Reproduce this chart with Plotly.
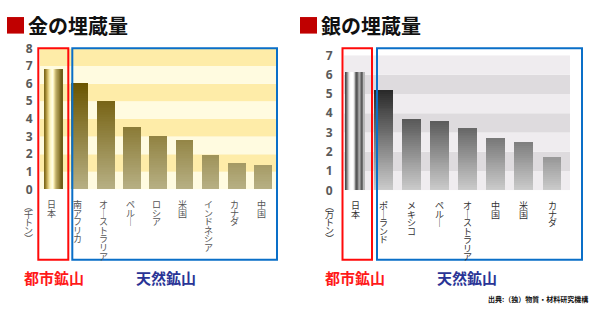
import numpy as np
import plotly.graph_objects as go

# ---------------- data ----------------
gold_categories = ["日本", "南アフリカ", "オーストラリア", "ペルー", "ロシア", "米国", "インドネシア", "カナダ", "中国"]
gold_values = [6.8, 6.0, 5.0, 3.5, 3.0, 2.8, 1.9, 1.5, 1.35]   # 千トン
gold_ticks = [0, 1, 2, 3, 4, 5, 6, 7, 8]

silver_categories = ["日本", "ポーランド", "メキシコ", "ペルー", "オーストラリア", "中国", "米国", "カナダ"]
silver_values = [6.1, 5.2, 3.7, 3.6, 3.2, 2.7, 2.5, 1.7]       # 万トン
silver_ticks = [0, 1, 2, 3, 4, 5, 6, 7]

gold_title = "金の埋蔵量"
silver_title = "銀の埋蔵量"
gold_unit = "︵千トン︶"
silver_unit = "︵万トン︶"
urban_label = "都市鉱山"
natural_label = "天然鉱山"
source_text = "出典:（独）物質・材料研究機構"

# ---------------- styling helpers ----------------
W, H = 595, 314
CJK = "Noto Sans CJK JP"


def fx(px):
    return px / W


def fy(py):
    return 1 - py / H


def gold_grad(h):
    return "rgb(%d,%d,%d)" % (184 - 12.8 * h, 177 - 15.3 * h, max(0, 133 - 22.2 * h))


def silver_grad(h):
    c = int(max(30, 205 - 31.5 * h))
    return "rgb(%d,%d,%d)" % (c, c, c)


gold_metal = ["#7e6a1c", "#957f2c", "#b39a45", "#cdb662", "#e2d084", "#f3e8a8", "#fcf6c6",
              "#fffbd8", "#fffde4", "#fbf3c0", "#e6d896", "#ccbb76", "#b6a660", "#a8974f",
              "#9c8b42", "#8c7a32", "#7b6a22", "#6f5f1a"]
silver_metal = ["#4a4a4a", "#6e6e6e", "#9c9c9c", "#cbcbcb", "#eeeeee", "#fbfbfb", "#ffffff",
                "#ffffff", "#f2f2f2", "#c6c6c6", "#7a7a7a", "#575757", "#686868", "#979797",
                "#ababab", "#858585", "#5c5c5c", "#707070", "#b8b8b8"]

fig = go.Figure()


def add_bars(vals, xa, ya, grad_fn, metal, bar_w, dh):
    n = len(metal)
    sw = bar_w / n
    fig.add_trace(go.Bar(
        x=[0] * n, y=[vals[0]] * n,
        offset=[-bar_w / 2 + j * sw for j in range(n)], width=[sw] * n,
        marker=dict(color=metal, line=dict(width=0)),
        xaxis=xa, yaxis=ya, hoverinfo="skip", showlegend=False))
    xs, bases, hs, cols = [], [], [], []
    for i, v in enumerate(vals[1:], start=1):
        nseg = int(np.ceil(v / dh - 1e-9))
        for k in range(nseg):
            b = k * dh
            h = min(dh, v - b)
            xs.append(i)
            bases.append(b)
            hs.append(h)
            cols.append(grad_fn(b + h / 2))
    fig.add_trace(go.Bar(
        x=xs, y=hs, base=bases, width=bar_w,
        marker=dict(color=cols, line=dict(width=0)),
        xaxis=xa, yaxis=ya, hoverinfo="skip", showlegend=False))


add_bars(gold_values, "x", "y", gold_grad, gold_metal, 0.67, 0.1)
add_bars(silver_values, "x2", "y2", silver_grad, silver_metal, 0.67, 0.1)

shapes = []
# stripes
for k in range(len(gold_ticks) - 1):
    shapes.append(dict(type="rect", xref="x domain", yref="y", x0=0, x1=1, y0=gold_ticks[k], y1=gold_ticks[k + 1],
                       fillcolor="#fffbe0" if k % 2 == 0 else "#feeca8", line=dict(width=0), layer="below"))
for k in range(len(silver_ticks) - 1):
    shapes.append(dict(type="rect", xref="x2 domain", yref="y2", x0=0, x1=1, y0=silver_ticks[k], y1=silver_ticks[k + 1],
                       fillcolor="#efecef" if k % 2 == 0 else "#dedbde", line=dict(width=0), layer="below"))


# frames (red: urban mine, blue: natural mines)
def frame(x0, x1, y0, y1, color):
    return dict(type="rect", xref="paper", yref="paper", x0=fx(x0), x1=fx(x1), y0=fy(y1), y1=fy(y0),
                line=dict(color=color, width=2), fillcolor="rgba(0,0,0,0)", layer="above")


shapes += [
    frame(38.3, 68.3, 41.5, 265, "#ff0a0a"),
    frame(72.3, 277, 41.5, 265, "#0a6fc8"),
    frame(342.5, 372, 41.5, 265, "#ff0a0a"),
    frame(377, 582, 41.5, 265, "#0a6fc8"),
]
# red title squares
shapes += [
    dict(type="rect", xref="paper", yref="paper", x0=fx(7), x1=fx(24), y0=fy(26), y1=fy(8.5),
         fillcolor="#c00000", line=dict(width=0)),
    dict(type="rect", xref="paper", yref="paper", x0=fx(300), x1=fx(317), y0=fy(26), y1=fy(8.5),
         fillcolor="#c00000", line=dict(width=0)),
]

ann = []


def vtext(text, glyph_size):
    # upright, top-to-bottom stacked characters (Japanese vertical writing)
    chars = ["｜" if c == "ー" else c for c in text]
    return "<br>".join("<span style='font-size:%gpx'>%s</span>" % (glyph_size, c) for c in chars)


PITCH_G = 8.6
PITCH_S = 8.5
for i, c in enumerate(gold_categories):
    ann.append(dict(x=i, y=0, xref="x", yref="y", text=vtext(c, 9), showarrow=False,
                    xanchor="center", yanchor="top", xshift=-2, yshift=-7, align="center",
                    font=dict(family=CJK, size=PITCH_G / 1.3, color="#555555")))
for i, c in enumerate(silver_categories):
    ann.append(dict(x=i, y=0, xref="x2", yref="y2", text=vtext(c, 9), showarrow=False,
                    xanchor="center", yanchor="top", yshift=-7, align="center",
                    font=dict(family=CJK, size=PITCH_S / 1.3, color="#333333")))

# unit labels below the y axes
ann.append(dict(x=fx(28.5), y=fy(200), xref="paper", yref="paper", text=vtext(gold_unit, 9), showarrow=False,
                xanchor="center", yanchor="top", align="center",
                font=dict(family=CJK, size=8 / 1.3, color="#555555")))
ann.append(dict(x=fx(329.5), y=fy(200), xref="paper", yref="paper", text=vtext(silver_unit, 9), showarrow=False,
                xanchor="center", yanchor="top", align="center",
                font=dict(family=CJK, size=8 / 1.3, color="#333333")))

# titles
ann.append(dict(x=fx(26), y=fy(17.5), xref="paper", yref="paper", text=gold_title, showarrow=False,
                xanchor="left", yanchor="middle", font=dict(family=CJK, size=20, color="#111111", weight="bold")))
ann.append(dict(x=fx(319), y=fy(17.5), xref="paper", yref="paper", text=silver_title, showarrow=False,
                xanchor="left", yanchor="middle", font=dict(family=CJK, size=20, color="#111111", weight="bold")))

# mine labels
for xl, txt, col in [(22, urban_label, "#ff1a1a"), (134, natural_label, "#2a3496"),
                     (323, urban_label, "#ff1a1a"), (435, natural_label, "#2a3496")]:
    ann.append(dict(x=fx(xl), y=fy(283.5), xref="paper", yref="paper", text=txt, showarrow=False,
                    xanchor="left", yanchor="middle", font=dict(family=CJK, size=15, color=col, weight="bold")))

ann.append(dict(x=fx(590), y=fy(306.5), xref="paper", yref="paper", text=source_text, showarrow=False,
                xanchor="right", yanchor="middle", font=dict(family=CJK, size=7, color="#111111", weight="bold")))

axis_x = dict(showgrid=False, zeroline=False, showticklabels=False, showline=False, ticks="", fixedrange=True)
axis_y = dict(showgrid=False, zeroline=False, showline=False, ticks="outside", tickcolor="rgba(0,0,0,0)",
              tickfont=dict(family="Open Sans", size=12, color="#5a5a5a", weight="bold"), fixedrange=True)

fig.update_layout(
    width=W, height=H,
    margin=dict(l=0, r=0, t=0, b=0),
    paper_bgcolor="white", plot_bgcolor="rgba(0,0,0,0)",
    barmode="overlay", bargap=0,
    showlegend=False,
    xaxis=dict(axis_x, domain=[fx(40), fx(276)], range=[-0.515, 8.495], anchor="y"),
    yaxis=dict(axis_y, domain=[fy(190.7), fy(41.7)], range=[0, 8], tickvals=gold_ticks, ticklen=4, anchor="x"),
    xaxis2=dict(axis_x, domain=[fx(344), fx(570)], range=[-0.4, 7.64], anchor="y2"),
    yaxis2=dict(axis_y, domain=[fy(191.7), fy(49)], range=[0, 7], tickvals=silver_ticks, ticklen=8, anchor="x2"),
    shapes=shapes,
    annotations=ann,
)

fig.write_html("out.html")
